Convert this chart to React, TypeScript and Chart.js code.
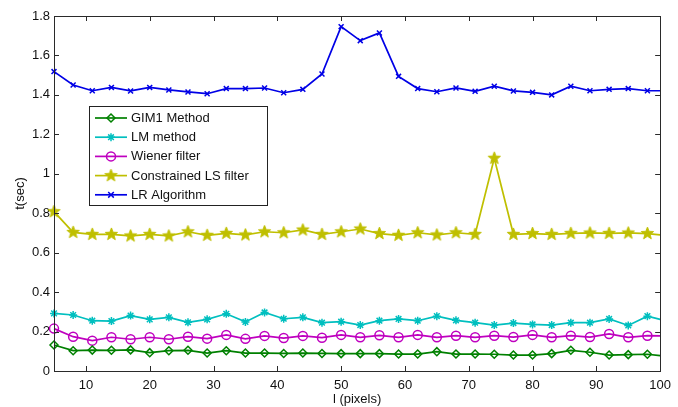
import React, { useEffect, useRef } from "react";
import { Chart, registerables } from "chart.js";
Chart.register(...registerables);

const xValues = [5, 8, 11, 14, 17, 20, 23, 26, 29, 32, 35, 38, 41, 44, 47, 50, 53, 56, 59, 62, 65, 68, 71, 74, 77, 80, 83, 86, 89, 92, 95, 98, 100];
const gim1 = [0.132, 0.103, 0.106, 0.105, 0.107, 0.093, 0.103, 0.105, 0.091, 0.103, 0.091, 0.091, 0.089, 0.091, 0.089, 0.088, 0.088, 0.088, 0.086, 0.086, 0.098, 0.086, 0.086, 0.085, 0.081, 0.081, 0.088, 0.105, 0.095, 0.081, 0.083, 0.085, 0.078];
const lm = [0.292, 0.284, 0.255, 0.253, 0.281, 0.262, 0.272, 0.247, 0.262, 0.290, 0.249, 0.297, 0.265, 0.272, 0.245, 0.250, 0.233, 0.255, 0.264, 0.255, 0.278, 0.257, 0.245, 0.233, 0.243, 0.236, 0.233, 0.245, 0.245, 0.264, 0.231, 0.278, 0.262];
const wiener = [0.215, 0.174, 0.154, 0.171, 0.161, 0.171, 0.161, 0.174, 0.164, 0.183, 0.163, 0.178, 0.167, 0.178, 0.169, 0.183, 0.171, 0.181, 0.171, 0.183, 0.171, 0.179, 0.171, 0.179, 0.172, 0.183, 0.171, 0.179, 0.172, 0.188, 0.171, 0.179, 0.178];
const cls = [0.808, 0.703, 0.693, 0.693, 0.685, 0.693, 0.685, 0.706, 0.688, 0.698, 0.690, 0.706, 0.701, 0.715, 0.693, 0.706, 0.720, 0.697, 0.688, 0.701, 0.690, 0.701, 0.693, 1.079, 0.693, 0.697, 0.693, 0.698, 0.700, 0.698, 0.700, 0.697, 0.690];
const lr = [1.518, 1.450, 1.421, 1.438, 1.420, 1.438, 1.425, 1.415, 1.406, 1.432, 1.432, 1.435, 1.411, 1.428, 1.506, 1.746, 1.675, 1.714, 1.494, 1.432, 1.416, 1.435, 1.418, 1.444, 1.420, 1.413, 1.400, 1.444, 1.421, 1.428, 1.432, 1.421, 1.421];

const xTicks = [10, 20, 30, 40, 50, 60, 70, 80, 90, 100];
const yTicks = [0, 0.2, 0.4, 0.6, 0.8, 1, 1.2, 1.4, 1.6, 1.8];
const seriesNames = ["GIM1 Method", "LM method", "Wiener filter", "Constrained LS filter", "LR Algorithm"];

const FONT = "'Liberation Sans', Arial, sans-serif";

function makePentagram(color: string, r: number): HTMLCanvasElement {
  const size = Math.ceil(r * 2 + 2);
  const c = document.createElement("canvas");
  c.width = size;
  c.height = size;
  const ctx = c.getContext("2d")!;
  const cx = size / 2, cy = size / 2;
  ctx.beginPath();
  for (let i = 0; i < 10; i++) {
    const rad = i % 2 === 0 ? r : r * 0.42;
    const a = -Math.PI / 2 + (i * Math.PI) / 5;
    const px = cx + rad * Math.cos(a);
    const py = cy + rad * Math.sin(a);
    if (i === 0) ctx.moveTo(px, py);
    else ctx.lineTo(px, py);
  }
  ctx.closePath();
  ctx.fillStyle = color;
  ctx.fill();
  ctx.strokeStyle = color;
  ctx.lineWidth = 1;
  ctx.stroke();
  return c;
}

function drawMarker(ctx: CanvasRenderingContext2D, style: any, r: number, x: number, y: number, color: string, fill: boolean) {
  ctx.save();
  ctx.strokeStyle = color;
  ctx.fillStyle = fill ? color : "rgba(0,0,0,0)";
  ctx.lineWidth = 1.5;
  if (typeof style !== "string") {
    ctx.drawImage(style, x - style.width / 2, y - style.height / 2);
    ctx.restore();
    return;
  }
  ctx.beginPath();
  if (style === "rectRot") {
    ctx.moveTo(x, y - r); ctx.lineTo(x + r, y); ctx.lineTo(x, y + r); ctx.lineTo(x - r, y); ctx.closePath();
    ctx.stroke();
  } else if (style === "circle") {
    ctx.arc(x, y, r, 0, Math.PI * 2);
    ctx.stroke();
  } else if (style === "crossRot") {
    const d = r * 0.8;
    ctx.moveTo(x - d, y - d); ctx.lineTo(x + d, y + d);
    ctx.moveTo(x + d, y - d); ctx.lineTo(x - d, y + d);
    ctx.stroke();
  } else if (style === "star") {
    ctx.moveTo(x - r, y); ctx.lineTo(x + r, y);
    ctx.moveTo(x, y - r); ctx.lineTo(x, y + r);
    const d = r * 0.707;
    ctx.moveTo(x - d, y - d); ctx.lineTo(x + d, y + d);
    ctx.moveTo(x + d, y - d); ctx.lineTo(x - d, y + d);
    ctx.stroke();
  }
  ctx.restore();
}

export default function App() {
  const ref = useRef<HTMLCanvasElement>(null);
  useEffect(() => {
    document.body.style.margin = "0";
    const canvas = ref.current!;
    const star = makePentagram("rgb(191,191,0)", 6.5);
    const last = xValues.length - 1;
    const toPts = (arr: number[]) => xValues.map((x, i) => ({ x, y: arr[i] }));
    const colors = ["rgb(0,128,0)", "rgb(0,191,191)", "rgb(191,0,191)", "rgb(191,191,0)", "rgb(0,0,230)"];
    const styles: any[] = ["rectRot", "star", "circle", star, "crossRot"];
    const radii = [4, 4, 4.5, 6.5, 3.5];
    const values = [gim1, lm, wiener, cls, lr];

    const datasets = values.map((arr, k) => ({
      label: seriesNames[k],
      data: toPts(arr),
      borderColor: colors[k],
      backgroundColor: k === 1 ? colors[k] : "rgba(0,0,0,0)",
      pointBorderColor: colors[k],
      pointBackgroundColor: k === 1 ? colors[k] : "rgba(0,0,0,0)",
      borderWidth: 1.7,
      pointBorderWidth: 1.5,
      pointStyle: styles[k],
      pointRadius: (ctx: any) => (ctx.dataIndex === last ? 0 : radii[k]),
      tension: 0,
      clip: false as any,
    }));

    const framePlugin = {
      id: "frame",
      afterDatasetsDraw(chart: any) {
        const { ctx, chartArea: a, scales } = chart;
        ctx.save();
        ctx.strokeStyle = "#2a2a2a";
        ctx.lineWidth = 1;
        ctx.strokeRect(Math.round(a.left) + 0.5, Math.round(a.top) + 0.5, Math.round(a.right - a.left), Math.round(a.bottom - a.top));
        const L = 5;
        ctx.beginPath();
        xTicks.forEach((v) => {
          const px = Math.round(scales.x.getPixelForValue(v)) + 0.5;
          ctx.moveTo(px, a.bottom);
          ctx.lineTo(px, a.bottom - L);
          ctx.moveTo(px, a.top);
          ctx.lineTo(px, a.top + L);
        });
        yTicks.forEach((v) => {
          const py = Math.round(scales.y.getPixelForValue(v)) + 0.5;
          ctx.moveTo(a.left, py);
          ctx.lineTo(a.left + L, py);
          ctx.moveTo(a.right, py);
          ctx.lineTo(a.right - L, py);
        });
        ctx.stroke();

        // legend
        const bx = 89.5, by = 106.5, bw = 178, bh = 99;
        ctx.fillStyle = "#fff";
        ctx.fillRect(bx, by, bw, bh);
        ctx.strokeStyle = "#222";
        ctx.strokeRect(bx, by, bw, bh);
        ctx.font = `13px ${FONT}`;
        ctx.textBaseline = "middle";
        ctx.textAlign = "left";
        seriesNames.forEach((name, k) => {
          const ry = 118 + k * 19.2;
          ctx.strokeStyle = colors[k];
          ctx.lineWidth = 1.7;
          ctx.beginPath();
          ctx.moveTo(95, ry);
          ctx.lineTo(127, ry);
          ctx.stroke();
          drawMarker(ctx, styles[k], radii[k], 111, ry, colors[k], k === 1);
          ctx.fillStyle = "#111";
          ctx.fillText(name, 131, ry + 0.5);
        });
        ctx.restore();
      },
    };

    const chart = new Chart(canvas, {
      type: "line",
      data: { datasets: datasets as any },
      plugins: [framePlugin],
      options: {
        animation: false,
        responsive: false,
        maintainAspectRatio: false,
        layout: { padding: { top: 16, right: 15, left: 0, bottom: 0 } },
        plugins: { legend: { display: false }, tooltip: { enabled: false } },
        scales: {
          x: {
            type: "linear",
            min: 5,
            max: 100,
            afterBuildTicks: (s: any) => { s.ticks = xTicks.map((v) => ({ value: v })); },
            afterFit: (s: any) => { s.height = 36; },
            grid: { display: false, drawTicks: false },
            border: { display: false },
            ticks: { color: "#111", font: { family: FONT, size: 13 }, padding: 7, maxRotation: 0, autoSkip: false },
            title: { display: true, text: "l (pixels)", color: "#111", font: { family: FONT, size: 13 }, padding: { top: 0, bottom: 0 } },
          },
          y: {
            type: "linear",
            min: 0,
            max: 1.8,
            afterBuildTicks: (s: any) => { s.ticks = yTicks.map((v) => ({ value: v })); },
            afterFit: (s: any) => { s.width = 54; },
            grid: { display: false, drawTicks: false },
            border: { display: false },
            ticks: { color: "#111", font: { family: FONT, size: 13 }, padding: 4, autoSkip: false, callback: (v: any) => String(Math.round(Number(v) * 10) / 10) },
            title: { display: true, text: "t(sec)", color: "#111", font: { family: FONT, size: 13 }, padding: { top: 13, bottom: 0 } },
          },
        },
      },
    });
    return () => chart.destroy();
  }, []);
  return (
    <div style={{ position: "fixed", left: 0, top: 0, width: 678, height: 407, background: "#fff" }}>
      <canvas ref={ref} width={678} height={407} style={{ width: 678, height: 407, display: "block" }} />
    </div>
  );
}
